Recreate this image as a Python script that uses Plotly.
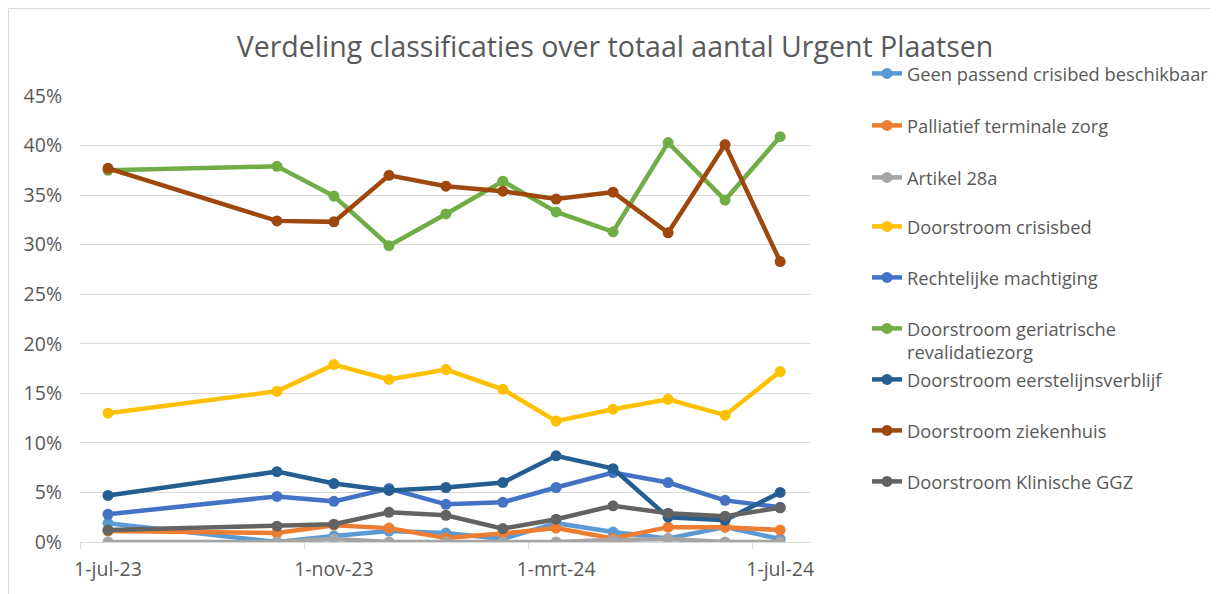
import plotly.graph_objects as go

dates = ["2023-07-01", "2023-10-01", "2023-11-01", "2023-12-01", "2024-01-01",
         "2024-02-01", "2024-03-01", "2024-04-01", "2024-05-01", "2024-06-01", "2024-07-01"]

series_names = [
    "Geen passend crisibed beschikbaar",
    "Palliatief terminale zorg",
    "Artikel 28a",
    "Doorstroom crisisbed",
    "Rechtelijke machtiging",
    "Doorstroom geriatrische<br>revalidatiezorg",
    "Doorstroom eerstelijnsverblijf",
    "Doorstroom ziekenhuis",
    "Doorstroom Klinische GGZ",
]

geen_passend = [1.9, 0.0, 0.6, 1.1, 0.9, 0.3, 1.9, 1.0, 0.35, 1.5, 0.3]
palliatief = [1.1, 0.9, 1.7, 1.4, 0.4, 0.85, 1.4, 0.35, 1.5, 1.5, 1.2]
artikel_28a = [0.0, 0.0, 0.3, 0.0, 0.0, 0.0, 0.0, 0.2, 0.3, 0.0, 0.0]
crisisbed = [13.0, 15.2, 17.9, 16.4, 17.4, 15.4, 12.2, 13.4, 14.4, 12.8, 17.2]
rechtelijke = [2.8, 4.6, 4.1, 5.4, 3.8, 4.0, 5.5, 7.0, 6.0, 4.2, 3.5]
geriatrische = [37.5, 37.9, 34.9, 29.9, 33.1, 36.4, 33.3, 31.3, 40.3, 34.5, 40.9]
eerstelijns = [4.7, 7.1, 5.9, 5.2, 5.5, 6.0, 8.7, 7.4, 2.5, 2.2, 5.0]
ziekenhuis = [37.7, 32.4, 32.3, 37.0, 35.9, 35.4, 34.6, 35.3, 31.2, 40.1, 28.3]
klinische_ggz = [1.2, 1.6, 1.8, 3.0, 2.7, 1.35, 2.3, 3.65, 2.9, 2.6, 3.45]

all_values = [geen_passend, palliatief, artikel_28a, crisisbed, rechtelijke,
              geriatrische, eerstelijns, ziekenhuis, klinische_ggz]

colors = ["#5B9BD5", "#ED7D31", "#A5A5A5", "#FFC000", "#4472C4",
          "#70AD47", "#255E91", "#9E480E", "#636363"]

x_tickvals = ["2023-07-01", "2023-11-01", "2024-03-01", "2024-07-01"]
x_ticktext = ["1-jul-23", "1-nov-23", "1-mrt-24", "1-jul-24"]
x_tickmarks = ["2023-06-16", "2023-10-16", "2024-02-15", "2024-06-16"]

y_ticks = [0, 0.05, 0.10, 0.15, 0.20, 0.25, 0.30, 0.35, 0.40, 0.45]

FONT = "Open Sans"
TXT = "#595959"
GRID = "#D9D9D9"

# page has an 8px body margin; figure coordinates are page coordinates - 8
OFF = 8
W, H = 1218 - OFF, 594 - OFF
L, R, T, B = 80 - OFF, 810 - OFF, 96 - OFF, 542 - OFF

fig = go.Figure()

legend_centers = [73, 125, 177, 226, 277, 328, 379, 430, 481]  # page y

for i, (name, vals, col) in enumerate(zip(series_names, all_values, colors)):
    lg = "legend" if i == 0 else f"legend{i+1}"
    fig.add_trace(go.Scatter(
        x=dates, y=[v / 100 for v in vals], name=name,
        mode="lines+markers",
        line=dict(color=col, width=4.5),
        marker=dict(color=col, size=11),
        legend=lg,
    ))

legend_common = dict(
    font=dict(family=FONT, size=18.3, color=TXT),
    bgcolor="rgba(0,0,0,0)",
    borderwidth=0,
    xref="container", yref="container",
    xanchor="left", yanchor="top",
    valign="top",
    itemclick=False, itemdoubleclick=False,
)

layout_legends = {}
for i, c in enumerate(legend_centers):
    key = "legend" if i == 0 else f"legend{i+1}"
    d = dict(legend_common)
    d["x"] = 859 / W
    d["y"] = (H - (c - 26)) / H
    layout_legends[key] = d

fig.update_layout(
    width=W, height=H,
    paper_bgcolor="white", plot_bgcolor="white",
    margin=dict(l=L, r=W - R, t=T, b=H - B, pad=0),
    title=dict(
        text="Verdeling classificaties over totaal aantal Urgent Plaatsen",
        font=dict(family=FONT, size=28.5, color=TXT),
        x=(615 - OFF) / W, xanchor="center", xref="container",
        y=(H - (47 - OFF)) / H, yanchor="middle", yref="container",
    ),
    showlegend=True,
    **layout_legends,
    xaxis=dict(
        type="date",
        range=["2023-06-15 18:00", "2024-07-17 06:00"],
        tickmode="array", tickvals=x_tickvals, ticktext=x_ticktext,
        ticks="", showgrid=False,
        showline=True, linecolor=GRID, linewidth=1,
        tickfont=dict(family=FONT, size=19.5, color=TXT),
        ticklabelstandoff=10,
        minor=dict(tickmode="array", tickvals=x_tickmarks, ticks="outside",
                   ticklen=6, tickcolor=GRID, tickwidth=1, showgrid=False),
        zeroline=False, fixedrange=True,
    ),
    yaxis=dict(
        range=[0, 0.45],
        tickmode="array", tickvals=y_ticks, tickformat=".0%",
        showgrid=True, gridcolor=GRID, gridwidth=1,
        showline=False, zeroline=False, ticks="",
        tickfont=dict(family=FONT, size=19.5, color=TXT),
        ticklabelstandoff=17,
        fixedrange=True,
    ),
    shapes=[dict(
        type="rect", xref="paper", yref="paper",
        x0=(0.5 - L) / (R - L), x1=(1216 - OFF - L) / (R - L),
        y0=(B - 620) / (B - T), y1=(B - 0.5) / (B - T),
        line=dict(color=GRID, width=1), fillcolor="rgba(0,0,0,0)",
        layer="below",
    )],
)

fig.write_html("out.html")
